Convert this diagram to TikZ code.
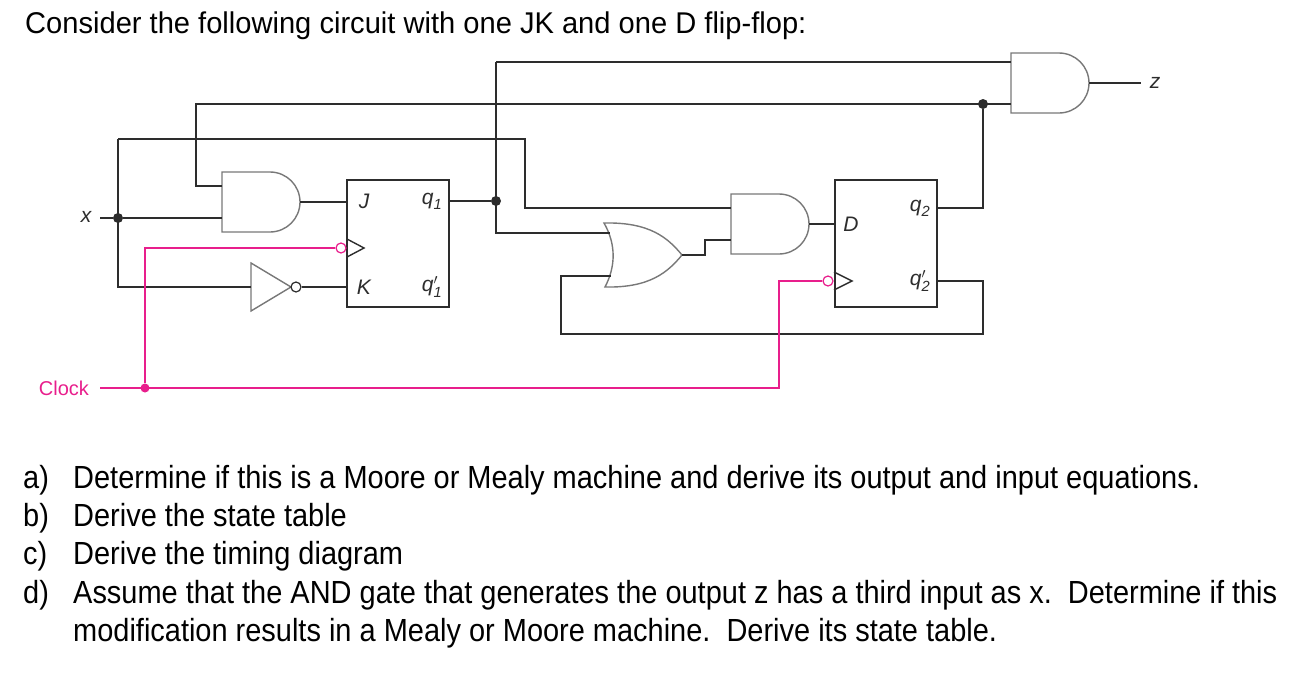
\documentclass[tikz,border=0pt]{standalone}
\usepackage{fontspec}
\usepackage{amsmath}
\setmainfont[FakeStretch=0.905]{Liberation Sans}
\newfontfamily\titlefont[FakeStretch=0.97]{Liberation Sans}
\newfontfamily\lblfont{Liberation Sans}
\definecolor{wirec}{RGB}{45,45,45}
\definecolor{gatec}{RGB}{120,120,120}
\definecolor{clkc}{RGB}{232,30,140}
\tikzset{
  wire/.style={draw=wirec, line width=1.4pt},
  clkwire/.style={draw=clkc, line width=1.4pt},
  gate/.style={draw=gatec, line width=1.4pt, fill=white},
  ffbox/.style={rectangle, draw=wirec, line width=1.4pt, minimum width=102pt, minimum height=127pt, inner sep=0pt},
  junc/.style={circle, fill=wirec, inner sep=0pt, minimum size=10pt},
  bubble/.style={circle, draw=#1, line width=1.2pt, fill=white, inner sep=0pt, minimum size=10pt},
  pinlbl/.style={font=\lblfont\fontsize{21}{22}\selectfont\itshape, text=wirec, inner sep=0pt},
  txt/.style={font=\fontsize{32}{38}\selectfont, anchor=base west, inner sep=0pt},
}
% AND gate: name, left x, centre y
\newcommand\andgate[3]{%
  \draw[gate] (#2,#3-30) -- (#2+48,#3-30) arc(-90:90:30) -- (#2,#3+30) -- cycle;
  \coordinate (#1-out) at (#2+78,#3);
}
\begin{document}
\begin{tikzpicture}[x=1pt,y=-1pt]
\useasboundingbox (0,0) rectangle (1302,688);
% text
\node[txt, font=\titlefont\fontsize{30}{36}\selectfont] (title) at (25,33) {Consider the following circuit with one JK and one D flip-flop:};
\node[txt] (ia) at (23,488) {a)};
\node[txt] (ta) at (73,488) {Determine if this is a Moore or Mealy machine and derive its output and input equations.};
\node[txt] (ib) at (23,526) {b)};
\node[txt] (tb) at (73,526) {Derive the state table};
\node[txt] (ic) at (23,564) {c)};
\node[txt] (tc) at (73,564) {Derive the timing diagram};
\node[txt] (id) at (23,603) {d)};
\node[txt] (td) at (73,603) {Assume that the AND gate that generates the output z has a third input as x.\ \ Determine if this};
\node[txt] (te) at (73,641) {modification results in a Mealy or Moore machine.\ \ Derive its state table.};
% flip-flops
\node[ffbox] (ff1) at (398,243.5) {};
\node[ffbox] (ff2) at (886,243.5) {};
\node[pinlbl] (J) at (364,201) {J};
\node[pinlbl] (K) at (364,287) {K};
\node[pinlbl] (q1) at (432,201) {$\textit{q}_{\text{1}}$};
\node[pinlbl] (q1n) at (432,287) {$\textit{q}'_{\text{1}}$};
\node[pinlbl] (Dl) at (851,224) {D};
\node[pinlbl] (q2) at (920,208) {$\textit{q}_{\text{2}}$};
\node[pinlbl] (q2n) at (920,281) {$\textit{q}'_{\text{2}}$};
\draw[wire] (347,239) -- (364,248) -- (347,257);
\draw[wire] (834,272) -- (852,281) -- (834,290);
% gates
\andgate{and1}{222}{202}
\andgate{and2}{731}{224}
\andgate{and3}{1011}{83}
\draw[gate] (604,223) .. controls (650,222) and (668,238) .. (682,255)
  .. controls (668,272) and (650,288) .. (605,287)
  .. controls (616,266) and (616,244) .. (604,223) -- cycle;
\coordinate (or-in1) at (610,233);
\coordinate (or-in2) at (611,276);
\coordinate (or-out) at (682,255);
\draw[gate] (251,263) -- (291,287) -- (251,311) -- cycle;
\node[bubble=wirec] (inv) at (296,287) {};
% nodes of the wiring
\node[pinlbl] (x) at (86,217) {x};
\node[pinlbl] (z) at (1155,83) {z};
\node[font=\lblfont\fontsize{20}{22}\selectfont, text=clkc, inner sep=0pt] (clk) at (64,388) {Clock};
\node[junc] (jx) at (118,218) {};
\node[junc] (jq1) at (496,201) {};
\node[junc] (jq2) at (983,104) {};
\node[junc, fill=clkc, minimum size=9pt] (jclk) at (145,388) {};
\node[bubble=clkc] (b1) at (341,248) {};
\node[bubble=clkc] (b2) at (828,281) {};
% wires
\draw[wire] (100,218) -- (jx) -- (222,218);
\draw[wire] (118,139) -- (118,287) -- (251,287);
\draw[wire] (118,139) -- (525,139) -- (525,208) -- (731,208);
\draw[wire] (222,186) -- (196,186) -- (196,104) -- (1011,104);
\draw[wire] (and1-out) -- (347,202);
\draw[wire] (inv) -- (347,287);
\draw[wire] (449,201) -- (jq1);
\draw[wire] (496,62) -- (496,233) -- (or-in1);
\draw[wire] (496,62) -- (1011,62);
\draw[wire] (938,208) -- (983,208) -- (jq2);
\draw[wire] (938,281) -- (983,281) -- (983,334) -- (561,334) -- (561,276) -- (or-in2);
\draw[wire] (or-out) -- (705,255) -- (705,240) -- (731,240);
\draw[wire] (and2-out) -- (834,224);
\draw[wire] (and3-out) -- (1141,83);
\draw[clkwire] (100,388) -- (779,388) -- (779,281) -- (b2);
\draw[clkwire] (jclk) -- (145,248) -- (b1);
\end{tikzpicture}
\end{document}
